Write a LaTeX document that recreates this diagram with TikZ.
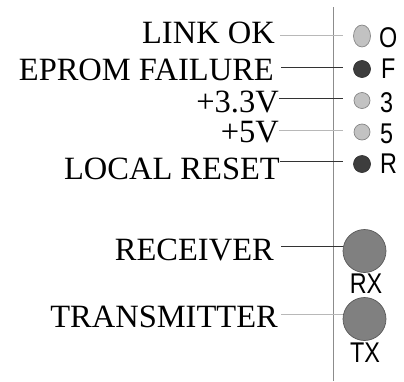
\documentclass[tikz,border=0pt]{standalone}
\usepackage{graphicx}
\usepackage{fontspec}
\setmainfont{Liberation Serif}
\newfontfamily\ledfont{Liberation Sans}
\newcommand{\ledtxt}[1]{\scalebox{0.82}[1]{\ledfont\fontsize{28.5}{29}\selectfont #1}}
\begin{document}
\begin{tikzpicture}[x=1pt,y=-1pt, line join=round, line cap=butt,
	lbl/.style={anchor=base east, inner sep=0pt, font=\fontsize{32.5}{34}\selectfont},
	tag/.style={anchor=base west, inner sep=0pt},
	ledlight/.style={fill=black!24, draw=black!48, line width=0.7pt},
	leddark/.style={fill=black!76, draw=black!80, line width=0.7pt},
	ledbig/.style={circle, minimum size=43pt, inner sep=0pt, fill=black!50, draw=black!65, line width=0.7pt},
	wirelight/.style={draw=black!28, line width=0.8pt},
	wiredark/.style={draw=black!80, line width=0.8pt}]
	\useasboundingbox (0,0) rectangle (404,381);
	\def\xt{279} \def\xe{343} \def\xl{362}
	% panel edge
	\coordinate (top) at (333,7);
	\coordinate (bot) at (333,381);
	\draw[black!45, line width=0.9pt] (top)--(bot);
	% status leds
	\node[lbl] (lok) at (\xt-4,43.3) {LINK OK};
	\node[lbl] (eprom) at (\xt-5,80) {EPROM FAILURE};
	\node[lbl] (v33) at (\xt,112) {+3.3V};
	\node[lbl] (v5) at (\xt,142) {+5V};
	\node[lbl] (rst) at (\xt+1,179) {LOCAL RESET};
	\coordinate (endO) at (\xe,35.7);
	\coordinate (endF) at (\xe,67);
	\coordinate (end3) at (\xe,98);
	\coordinate (end5) at (\xe,130);
	\coordinate (endR) at (\xe,161);
	\draw[wirelight] ([xshift=5pt]lok.east |- endO)--(endO);
	\draw[wiredark] ([xshift=7pt]eprom.east |- endF)--(endF);
	\draw[wiredark] (v33.east |- end3)--(end3);
	\draw[wirelight] (v5.east |- end5)--(end5);
	\draw[wiredark] (rst.east |- endR)--(endR);
	\filldraw[ledlight] (\xl,36) ellipse (8.5 and 11);
	\filldraw[leddark] (\xl,69) circle (8.5);
	\filldraw[ledlight] (\xl,100.5) circle (8);
	\filldraw[ledlight] (\xl,132) circle (8);
	\filldraw[leddark] (\xl,164) circle (8.5);
	\node[tag] (tO) at (379,47.5) {\ledtxt{O}};
	\node[tag] (tF) at (381,78) {\ledtxt{F}};
	\node[tag] (t3) at (380,112) {\ledtxt{3}};
	\node[tag] (t5) at (380,143) {\ledtxt{5}};
	\node[tag] (tR) at (380,173) {\ledtxt{R}};
	% link leds
	\node[lbl] (rcv) at (\xt-5,260) {RECEIVER};
	\node[lbl] (xmt) at (\xt-1,327) {TRANSMITTER};
	\node[ledbig] (rx) at (364.5,251) {};
	\node[ledbig] (tx) at (364.5,319) {};
	\coordinate (endRx) at (rx.west |- 0,246);
	\coordinate (endTx) at (tx.west |- 0,314);
	\draw[wiredark] ([xshift=7pt]rcv.east |- endRx)--(endRx);
	\draw[wirelight] ([xshift=3pt]xmt.east |- endTx)--(endTx);
	\node[tag, anchor=base] (trx) at (366,293) {\ledtxt{RX}};
	\node[tag, anchor=base] (ttx) at (365,362) {\ledtxt{TX}};
\end{tikzpicture}
\end{document}
